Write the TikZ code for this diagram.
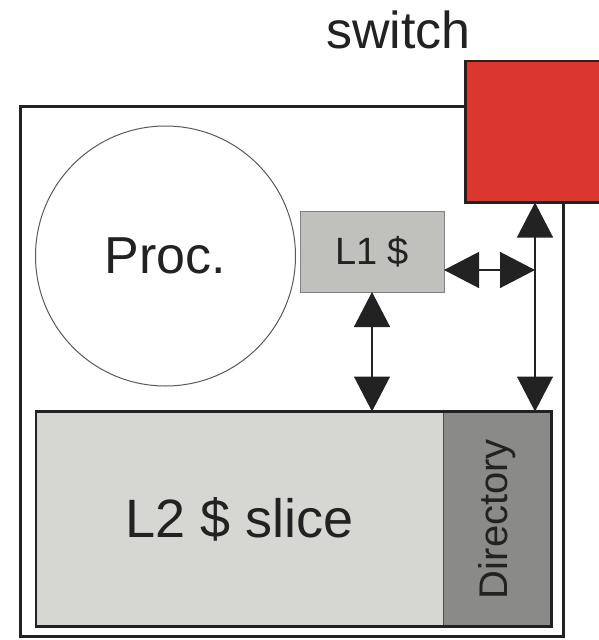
\documentclass[tikz,border=0pt]{standalone}
\usepackage{graphicx}
\usepackage{fontspec}
\setmainfont{Liberation Sans}
\usetikzlibrary{arrows.meta}
\definecolor{swred}{HTML}{D9372F}
\definecolor{lone}{HTML}{C0C0BC}
\definecolor{ltwo}{HTML}{D6D7D3}
\definecolor{dirgray}{HTML}{8A8B88}
\definecolor{ink}{HTML}{222222}
\begin{document}
\begin{tikzpicture}[x=1pt,y=-1pt,
  box/.style={anchor=north west, inner sep=0pt, outer sep=0pt},
  lbl/.style={text=ink, font=\fontsize{52}{60}\selectfont},
  dbl/.style={{Triangle[length=35pt,width=36pt]}-{Triangle[length=35pt,width=36pt]}, line width=1.3pt, draw=ink, fill=ink}]
\useasboundingbox (0,0) rectangle (599,640);
\clip (0,0) rectangle (599,640);
% tile outline
\node[box, draw=ink, line width=2.6pt, minimum width=542.6pt, minimum height=530pt] (tile) at (20.7,106.7) {};
% switch
\node[box, draw=ink, fill=swred, line width=2.6pt, minimum width=160pt, minimum height=141.5pt] (sw) at (465.7,61) {};
\node[lbl, anchor=base] (swl) at (398.5,48) {switch};
% processor
\node[circle, draw=gray!70!black, line width=1pt, minimum size=260pt, inner sep=0pt, lbl] (proc) at (165.5,256) {Proc.};
% L1
\node[box, draw=gray, fill=lone, line width=1pt, minimum width=144pt, minimum height=80.3pt, text=ink, font=\fontsize{38}{44}\selectfont] (l1) at (300,211.7) {L1 \$};
% L2 slice and directory
\node[box, fill=ltwo, minimum width=407pt, minimum height=215pt, text=ink, font=\fontsize{54}{60}\selectfont] (l2main) at (36,411.5) {L2 \$ slice};
\node[box, fill=dirgray, draw=gray!60!black, line width=0.8pt, minimum width=108.5pt, minimum height=215pt, text=ink, font=\fontsize{40}{46}\selectfont] (dir) at (443,411.5) {\rotatebox{90}{Directory}};
\draw[ink, line width=2.6pt] (l2main.north west) rectangle (dir.south east);
% connectors
\coordinate (rj) at (535,270);
\draw[dbl] (l1.south) -- (l1.south |- l2main.north);
\draw[dbl] (rj |- sw.south) -- (rj |- dir.north);
\draw[dbl] (l1.east |- rj) -- (rj);
\end{tikzpicture}
\end{document}
